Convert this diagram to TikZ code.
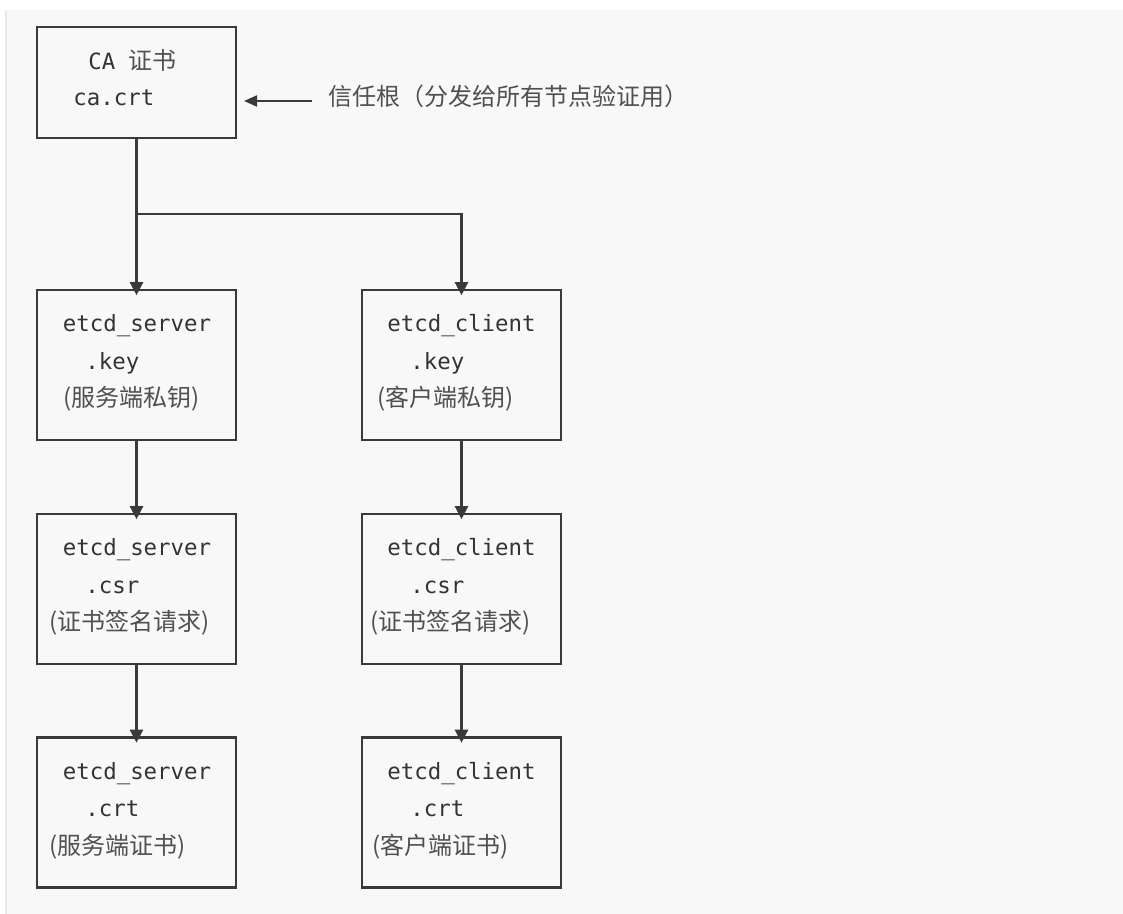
\documentclass[tikz,border=0pt]{standalone}
\usepackage{fontspec}
\setmonofont{DejaVu Sans Mono}
\newfontfamily\cjkfont{Noto Sans CJK SC}
\usetikzlibrary{arrows.meta}
\definecolor{bgc}{HTML}{F8F8F8}
\definecolor{stripc}{HTML}{E4EAEE}
\definecolor{linec}{HTML}{3A3A3A}
\definecolor{textc}{HTML}{333333}
\definecolor{cjkc}{HTML}{505050}
\tikzset{
  file/.style={draw=linec, line width=1.2pt, minimum width=99.5pt, minimum height=75pt, inner sep=0pt},
  mono/.style={font=\ttfamily\fontsize{11.2}{13}\selectfont, text=textc, inner sep=0pt},
  cjk/.style={font=\cjkfont\fontsize{12}{14}\selectfont, text=cjkc, inner sep=0pt},
  flow/.style={draw=linec, line width=1.2pt, -{Triangle[width=6.5pt,length=6.5pt]}, shorten >=-3.2pt},
}
\begin{document}
\begin{tikzpicture}[x=0.5pt,y=-0.5pt]
  \useasboundingbox (0,0) rectangle (1123,914);
  \fill[white] (0,0) rectangle (1123,914);
  \fill[bgc] (5,10) rectangle (1123,914);
  \fill[stripc] (5,10) rectangle (7,914);

  \node[file, minimum height=55.5pt] (ca) at (136.5,82.5) {};
  \node[mono, anchor=mid west] (catitle) at (88,65) {CA {\cjkfont\fontsize{12}{14}\selectfont\color{cjkc}证书}};
  \node[mono, anchor=mid west] (cafile) at (73,101) {ca.crt};
  \node[cjk, anchor=mid west] (trust) at (328,101) {信任根（分发给所有节点验证用）};
  \coordinate (catip) at (244,101);
  \draw[flow, line width=1pt, shorten >=0pt, -{Triangle[width=5.5pt,length=6.5pt]}] ([xshift=-8pt]trust.mid west) -- (catip);

  \node[file] (srvkey) at (136.5,365) {};
  \node[file] (srvcsr) at (136.5,589) {};
  \node[file] (srvcrt) at (136.5,812.5) {};
  \node[file] (clikey) at (461.5,365) {};
  \node[file] (clicsr) at (461.5,589) {};
  \node[file] (clicrt) at (461.5,812.5) {};

  \node[mono, anchor=mid] (srvkeyname) at (137,327) {etcd\_server};
  \node[mono, anchor=mid west] (srvkeyext) at (85,365) {.key};
  \node[cjk, anchor=mid west] (srvkeynote) at (63,402) {(服务端私钥)};
  \node[mono, anchor=mid] (srvcsrname) at (137,551) {etcd\_server};
  \node[mono, anchor=mid west] (srvcsrext) at (85,589) {.csr};
  \node[cjk, anchor=mid west] (srvcsrnote) at (49,626) {(证书签名请求)};
  \node[mono, anchor=mid] (srvcrtname) at (137,775) {etcd\_server};
  \node[mono, anchor=mid west] (srvcrtext) at (85,812) {.crt};
  \node[cjk, anchor=mid west] (srvcrtnote) at (49,850) {(服务端证书)};

  \node[mono, anchor=mid] (clikeyname) at (461.5,327) {etcd\_client};
  \node[mono, anchor=mid west] (clikeyext) at (410,365) {.key};
  \node[cjk, anchor=mid west] (clikeynote) at (377,402) {(客户端私钥)};
  \node[mono, anchor=mid] (clicsrname) at (461.5,551) {etcd\_client};
  \node[mono, anchor=mid west] (clicsrext) at (410,589) {.csr};
  \node[cjk, anchor=mid west] (clicsrnote) at (370,626) {(证书签名请求)};
  \node[mono, anchor=mid] (clicrtname) at (461.5,775) {etcd\_client};
  \node[mono, anchor=mid west] (clicrtext) at (410,812) {.crt};
  \node[cjk, anchor=mid west] (clicrtnote) at (372,850) {(客户端证书)};

  \coordinate (fork) at (136.5,214);
  \draw[flow, -] (ca.south) -- (fork);
  \draw[flow] (fork) -- (srvkey.north);
  \draw[flow] (fork) -| (clikey.north);
  \draw[flow] (srvkey.south) -- (srvcsr.north);
  \draw[flow] (srvcsr.south) -- (srvcrt.north);
  \draw[flow] (clikey.south) -- (clicsr.north);
  \draw[flow] (clicsr.south) -- (clicrt.north);
\end{tikzpicture}
\end{document}
